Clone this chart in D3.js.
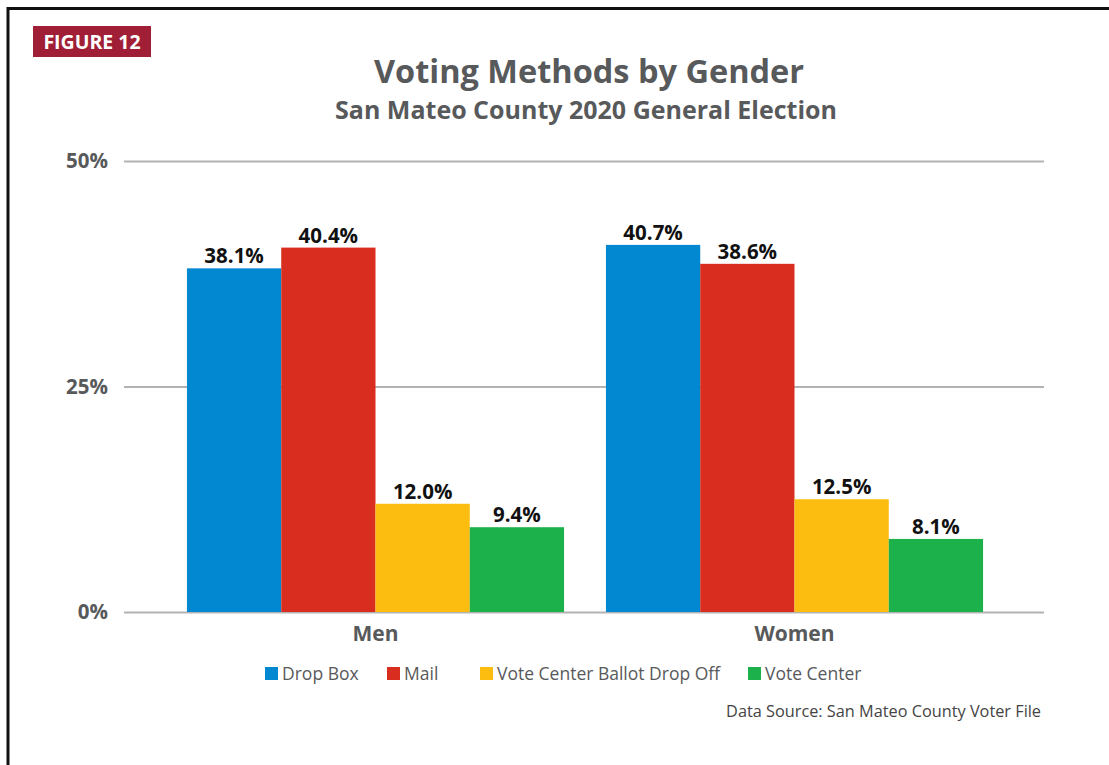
<!DOCTYPE html>
<html>
<head>
<meta charset="utf-8">
<script src="https://cdn.jsdelivr.net/npm/d3@7"></script>
<style>
  body { margin: 0; background: #fff; }
  svg { display: block; font-family: "Open Sans", sans-serif; }
</style>
</head>
<body>
<div id="graf"></div>
<script>
// data
const genders = ['Men', 'Women']
const methods = ['Drop Box', 'Mail', 'Vote Center Ballot Drop Off', 'Vote Center']
const dropBox = [38.1, 40.7]
const mail = [40.4, 38.6]
const ballotDropOff = [12.0, 12.5]
const voteCenter = [9.4, 8.1]
const yTicks = [0, 25, 50]
const colores = ['#0288d1', '#d92d20', '#fdbd10', '#1db14b']

const series = [dropBox, mail, ballotDropOff, voteCenter]
const data = genders.map((g, i) => ({
  gender: g,
  values: methods.map((m, j) => ({ method: m, value: series[j][i] }))
}))

const W = 1109, H = 765
const svg = d3.select('#graf').append('svg')
  .attr('width', W).attr('height', H)

// marco
svg.append('rect')
  .attr('x', 8).attr('y', 8.5)
  .attr('width', W + 20).attr('height', H + 20)
  .attr('fill', 'none').attr('stroke', '#111').attr('stroke-width', 3)

// badge
svg.append('rect').attr('x', 33).attr('y', 26).attr('width', 118).attr('height', 31).attr('fill', '#a01f36')
svg.append('text').attr('x', 92).attr('y', 49).attr('text-anchor', 'middle')
  .attr('fill', '#fff').attr('font-weight', 700).attr('font-size', 19.5).text('FIGURE 12')

// titulos
svg.append('text').attr('x', 589).attr('y', 83).attr('text-anchor', 'middle')
  .attr('fill', '#58595b').attr('font-weight', 700).attr('font-size', 32.5)
  .text('Voting Methods by Gender')
svg.append('text').attr('x', 586).attr('y', 119).attr('text-anchor', 'middle')
  .attr('fill', '#58595b').attr('font-weight', 700).attr('font-size', 25)
  .text('San Mateo County 2020 General Election')

const y = d3.scaleLinear().domain([0, 50]).range([612, 161])
const x0 = d3.scaleBand().domain(genders).range([166, 1004]).paddingInner(0.1).paddingOuter(0.05)
const x1 = d3.scaleBand().domain(methods).range([0, x0.bandwidth()])

// eje y con grid
const yAxis = svg.append('g')
  .attr('transform', 'translate(124,0)')
  .call(d3.axisLeft(y).tickValues(yTicks).tickSize(-920).tickFormat(d => d + '%').tickPadding(16))
yAxis.select('.domain').remove()
yAxis.selectAll('line').attr('stroke', '#b3b3b3').attr('stroke-width', 2)
yAxis.selectAll('text').attr('fill', '#58595b').attr('font-weight', 700)
  .attr('font-size', 20.5).attr('font-family', '"Open Sans", sans-serif')

// barras
const grupos = svg.append('g').selectAll('g').data(data).join('g')
  .attr('transform', d => `translate(${x0(d.gender)},0)`)

grupos.selectAll('rect').data(d => d.values).join('rect')
  .attr('x', d => x1(d.method))
  .attr('y', d => y(d.value))
  .attr('width', x1.bandwidth())
  .attr('height', d => y(0) - y(d.value))
  .attr('fill', (d, i) => colores[i])

grupos.selectAll('text').data(d => d.values).join('text')
  .attr('x', d => x1(d.method) + x1.bandwidth() / 2)
  .attr('y', d => y(d.value) - 5)
  .attr('text-anchor', 'middle')
  .attr('fill', '#111').attr('font-weight', 700).attr('font-size', 20.5)
  .text(d => d.value.toFixed(1) + '%')

// eje x (etiquetas)
svg.append('g').selectAll('text').data(genders).join('text')
  .attr('x', d => x0(d) + x0.bandwidth() / 2)
  .attr('y', 641)
  .attr('text-anchor', 'middle')
  .attr('fill', '#58595b').attr('font-weight', 700).attr('font-size', 21)
  .text(d => d)

// leyenda
const legendX = [265, 387, 480, 748]
const leyenda = svg.append('g').attr('transform', 'translate(0,674)')
const items = leyenda.selectAll('g').data(methods).join('g')
  .attr('transform', (d, i) => `translate(${legendX[i]},0)`)
items.append('rect').attr('x', 0).attr('y', -7).attr('width', 13).attr('height', 13)
  .attr('fill', (d, i) => colores[i])
items.append('text').attr('x', 17).attr('y', 6)
  .attr('fill', '#58595b').attr('font-size', 17.5).text(d => d)

svg.append('text').attr('x', 1041).attr('y', 717).attr('text-anchor', 'end')
  .attr('fill', '#444').attr('font-size', 16.3)
  .text('Data Source: San Mateo County Voter File')
</script>
</body>
</html>
